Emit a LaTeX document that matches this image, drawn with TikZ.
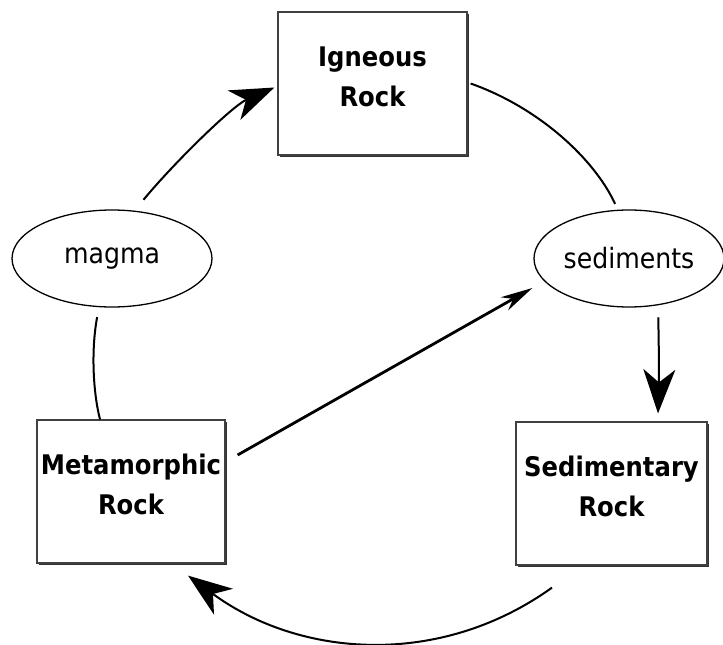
\documentclass[tikz,border=0pt]{standalone}
\usepackage{fontspec}
\setmainfont{DejaVu Sans}[FakeStretch=0.9]
\usetikzlibrary{arrows.meta,shapes.geometric,shadows}
% two-line label for the rock boxes; the extra depth lifts it above the box centre
\newcommand{\rocklabel}[2]{\raisebox{0pt}[\height][\dimexpr\depth+14pt\relax]{\parbox{185pt}{\centering #1\\#2}}}
\begin{document}
\begin{tikzpicture}[x=1pt,y=-1pt,
  rockbox/.style={draw=black!75, line width=1.2pt, fill=white,
    font=\fontsize{27}{40}\selectfont\bfseries, inner sep=0pt,
    drop shadow={shadow xshift=2pt, shadow yshift=-2pt, fill=black!80, opacity=1}},
  stage/.style={draw=black, line width=1.3pt, ellipse, inner sep=0pt,
    font=\fontsize{28}{30}\selectfont},
  cyc/.style={draw=black, line width=2pt},
  bigtip/.style={-{Stealth[length=44pt,width=32pt,inset=13pt]}},
  thintip/.style={-{Stealth[length=32pt,width=15pt,inset=10pt]}}]
  \fill[white] (0,0) rectangle (723,645);
  \useasboundingbox (0,0) rectangle (723,645);

  % rock types
  \node[rockbox, minimum width=189pt, minimum height=143pt] (ign) at (372.5,83.5) {\rocklabel{Igneous}{Rock}};
  \node[rockbox, minimum width=188pt, minimum height=143pt] (met) at (131,491.5) {\rocklabel{Metamorphic}{Rock}};
  \node[rockbox, minimum width=191pt, minimum height=143pt] (sedrock) at (611.5,493.5) {\rocklabel{Sedimentary}{Rock}};

  % intermediate stages
  \node[stage, minimum width=200pt, minimum height=97pt] (magma) at (112,258.5) {magma};
  \node[stage, minimum width=190pt, minimum height=97pt] (sed) at (629,258.5) {sediments};

  % cycle connectors
  \draw[cyc, bigtip] ([yshift=12pt]magma.56) .. controls (172,165) and (232,106) .. ([xshift=-3pt,yshift=-4pt]ign.west);
  \draw[cyc] ([xshift=3pt]ign.east) .. controls (540,108) and (595,160) .. ([yshift=6pt]sed.106);
  \draw[cyc, bigtip] ([yshift=-12pt]sed.-58) .. controls (659,350) and (659,380) .. ([xshift=46.5pt,yshift=8pt]sedrock.north);
  \draw[cyc, bigtip] ([xshift=-59.5pt,yshift=-22pt]sedrock.south) .. controls (440,668) and (300,658) .. ([xshift=57pt,yshift=-12pt]met.south);
  \draw[cyc] ([yshift=-10pt]magma.-107) .. controls (91,350) and (93,392) .. ([xshift=-31pt]met.north);
  \draw[line width=2.8pt, thintip] ([xshift=12pt,yshift=36.5pt]met.east) -- ([xshift=-1pt,yshift=-29.5pt]sed.west);
\end{tikzpicture}
\end{document}
